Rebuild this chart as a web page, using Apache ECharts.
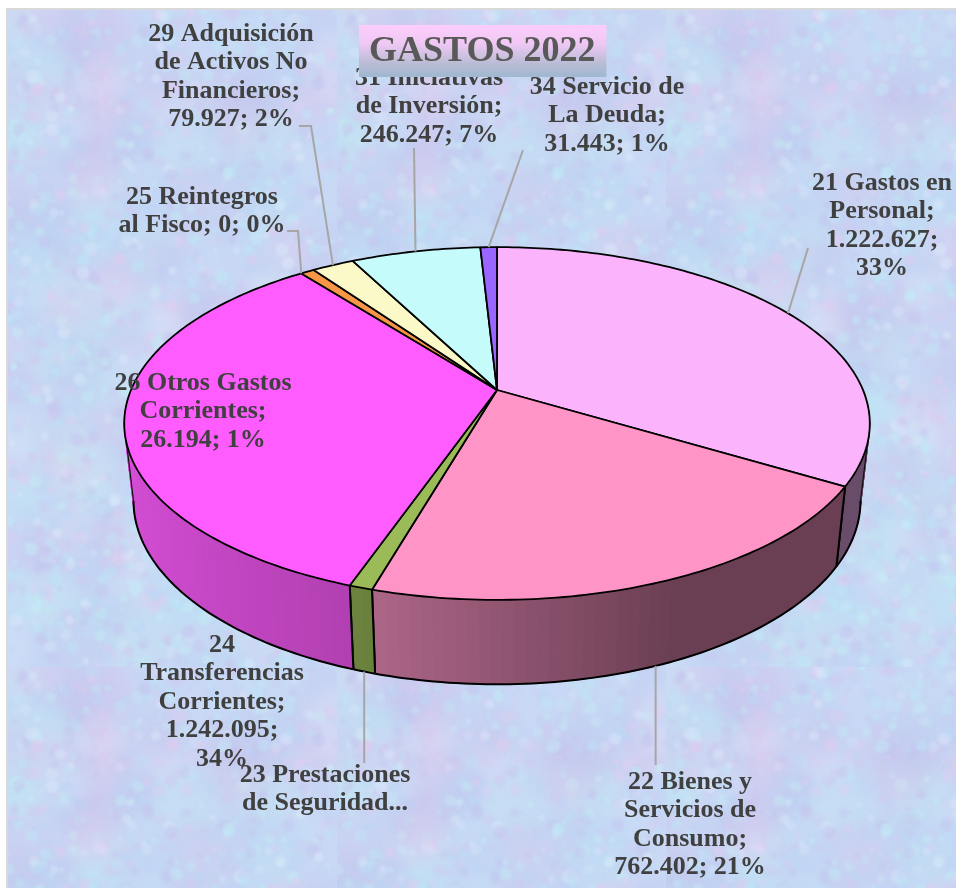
<!DOCTYPE html>
<html>
<head>
<meta charset="utf-8">
<style>
  html, body { margin: 0; padding: 0; background: #fff; }
  #pie3d { width: 956px; height: 888px; }
</style>
<script src="https://cdn.jsdelivr.net/npm/echarts@6/dist/echarts.min.js"></script>
</head>
<body>
<div id="pie3d"></div>
<script>
// datos (el 23 va truncado en la etiqueta, valor estimado)
var sliceNames = ['21 Gastos en Personal', '22 Bienes y Servicios de Consumo', '23 Prestaciones de Seguridad Social',
  '24 Transferencias Corrientes', '25 Reintegros al Fisco', '26 Otros Gastos Corrientes',
  '29 Adquisición de Activos No Financieros', '31 Iniciativas de Inversión', '34 Servicio de La Deuda'];
var sliceValues = [1222627, 762402, 31000, 1242095, 0, 26194, 79927, 246247, 31443];
var sliceColors = ['#fbb4fb', '#fe95c6', '#9bbb59', '#ff5cff', '#4f81bd', '#f79646', '#fbf9c8', '#c5fbfb', '#9966ff'];
var sliceLabels = [
  '21 Gastos en\nPersonal;\n1.222.627;\n33%',
  '22 Bienes y\nServicios de\nConsumo;\n762.402; 21%',
  '23 Prestaciones\nde Seguridad...',
  '24\nTransferencias\nCorrientes;\n1.242.095;\n34%',
  '25 Reintegros\nal Fisco; 0; 0%',
  '26 Otros Gastos\nCorrientes;\n26.194; 1%',
  '29 Adquisición\nde Activos No\nFinancieros;\n79.927; 2%',
  '31 Iniciativas\nde Inversión;\n246.247; 7%',
  '34 Servicio de\nLa Deuda;\n31.443; 1%'
];

// donde va cada etiqueta: x centro, y primera linea, y fin de la guia (null = sin guia)
var labelSpots = [
  { x: 882, y: 169, lead: [808, 248] },
  { x: 690, y: 768, lead: [653, 765] },
  { x: 325, y: 761, lead: [364, 763] },
  { x: 222, y: 631, lead: null },
  { x: 202, y: 183, lead: [[287, 231], [298, 231]] },
  { x: 203, y: 369, lead: null },
  { x: 231, y: 20, lead: [[299, 126], [311, 126]] },
  { x: 429, y: 64, lead: [414, 148] },
  { x: 607, y: 73, lead: [523, 150] }
];

var total = sliceValues.reduce(function (a, b) { return a + b; }, 0);
var RAD = Math.PI / 180;

// perspectiva del pie: circulo superior e inferior
var HUB_X = 497, HUB_Y = 390, RX = 366, RY = 170, PERSP = 0.19;
var BOTTOM_Y = 466, BOTTOM_SX = 0.975, BOTTOM_SY = 1.04;

function topPoint(deg) {
  var u = Math.sin(deg * RAD), v = Math.cos(deg * RAD), w = 1 + PERSP * v;
  return [HUB_X + RX * u / w, HUB_Y - RY * v / w];
}
function bottomPoint(deg) {
  var u = Math.sin(deg * RAD), v = Math.cos(deg * RAD), w = 1 + PERSP * v;
  return [HUB_X + BOTTOM_SX * RX * u / w, BOTTOM_Y - BOTTOM_SY * RY * v / w];
}
function arc(fn, a, b) {
  var pts = [], n = Math.max(2, Math.ceil(Math.abs(b - a)));
  for (var i = 0; i <= n; i++) pts.push(fn(a + (b - a) * i / n));
  return pts;
}

// angulos acumulados de cada slice
var sliceAngles = [];
sliceValues.reduce(function (acc, v) {
  var next = acc + v / total * 360;
  sliceAngles.push([acc, next]);
  return next;
}, 0);

// sombra de la pared segun posicion horizontal
function wallFactor(deg) {
  var u = Math.sin(deg * RAD);
  if (u > 0.4) return 0.42;
  if (u > -0.3) return 0.69 - (u + 0.3) / 0.7 * 0.27;
  return 0.84 - (u + 1) / 0.7 * 0.15;
}
function shade(hex, f) {
  var c = echarts.color.parse(hex);
  return 'rgb(' + Math.round(c[0] * f) + ',' + Math.round(c[1] * f) + ',' + Math.round(c[2] * f) + ')';
}

var silhouette = Math.acos(-PERSP) / RAD;

function renderWall(params, api) {
  var i = api.value(0);
  var a = Math.max(sliceAngles[i][0], 90), b = Math.min(sliceAngles[i][1], 270);
  if (api.value(1) === 0 || b <= a) return { type: 'group', children: [] };
  var kids = [];
  var step = 1.5;
  for (var d = a; d < b; d += step) {
    var e = Math.min(d + step, b);
    var col = shade(sliceColors[i], wallFactor((d + e) / 2));
    kids.push({
      type: 'polygon',
      shape: { points: [topPoint(d), topPoint(e), bottomPoint(e), bottomPoint(d)] },
      style: { fill: col, stroke: col, lineWidth: 1 }
    });
  }
  var ink = { fill: null, stroke: '#000', lineWidth: 2 };
  // borde inferior
  var lo = Math.max(a, silhouette), hi = Math.min(b, 360 - silhouette);
  if (hi > lo) kids.push({ type: 'polyline', shape: { points: arc(bottomPoint, lo, hi) }, style: ink });
  // aristas verticales
  [a, b].forEach(function (d) {
    if (d > silhouette && d < 360 - silhouette) {
      kids.push({ type: 'line', shape: { x1: topPoint(d)[0], y1: topPoint(d)[1], x2: bottomPoint(d)[0], y2: bottomPoint(d)[1] }, style: ink });
    }
  });
  [silhouette, 360 - silhouette].forEach(function (d) {
    if (d >= a && d <= b) {
      kids.push({ type: 'line', shape: { x1: topPoint(d)[0], y1: topPoint(d)[1], x2: bottomPoint(d)[0], y2: bottomPoint(d)[1] }, style: { stroke: '#111', lineWidth: 1.2 } });
    }
  });
  return { type: 'group', children: kids };
}

function renderTop(params, api) {
  var i = api.value(0);
  if (api.value(1) === 0) return { type: 'group', children: [] };
  var pts = [[HUB_X, HUB_Y]].concat(arc(topPoint, sliceAngles[i][0], sliceAngles[i][1]));
  return {
    type: 'polygon',
    shape: { points: pts },
    style: { fill: sliceColors[i], stroke: '#000', lineWidth: 1.8, lineJoin: 'round' }
  };
}

function renderLabel(params, api) {
  var i = api.value(0), spot = labelSpots[i], kids = [];
  if (spot.lead) {
    var mid = (sliceAngles[i][0] + sliceAngles[i][1]) / 2;
    var front = mid > 90 && mid < 270;
    var anchor = front ? bottomPoint(mid) : topPoint(mid);
    var start = Array.isArray(spot.lead[0]) ? spot.lead : [spot.lead];
    // guias verticales de abajo: mismo x que el punto del pie
    if (front) start = [[anchor[0], spot.lead[1]]];
    kids.push({
      type: 'polyline',
      shape: { points: start.concat([anchor]) },
      style: { fill: null, stroke: '#a6a6a6', lineWidth: 2 }
    });
  }
  kids.push({
    type: 'text',
    style: {
      text: sliceLabels[i], x: spot.x, y: spot.y, align: 'center', verticalAlign: 'top',
      fill: '#404040', fontFamily: '"Liberation Serif", serif', fontWeight: 'bold', fontSize: 26, lineHeight: 28.4
    }
  });
  return { type: 'group', children: kids };
}

// fondo: textura pastel en mosaico, pseudoaleatorio fijo
function makeTexture(w, h) {
  var tw = 329, th = 657;
  var tile = document.createElement('canvas');
  tile.width = tw; tile.height = th;
  var c = tile.getContext('2d');
  c.fillStyle = '#c8d8f5';
  c.fillRect(0, 0, tw, th);
  var seed = 20220;
  function rnd() { seed = (seed * 1664525 + 1013904223) % 4294967296; return seed / 4294967296; }
  var tints = ['#bde6f6', '#cfcaf0', '#e0ccf0', '#bcd6f6', '#dbe9fa', '#c4c4ee', '#c4ecf4'];
  function blobs(count, minR, maxR, minA, maxA, blur) {
    c.filter = 'blur(' + blur + 'px)';
    for (var n = 0; n < count; n++) {
      c.globalAlpha = minA + rnd() * (maxA - minA);
      c.fillStyle = tints[Math.floor(rnd() * tints.length)];
      c.beginPath();
      c.arc(rnd() * tw, rnd() * th, minR + rnd() * (maxR - minR), 0, 7);
      c.fill();
    }
  }
  blobs(260, 14, 34, 0.2, 0.4, 8);
  blobs(1500, 2, 7, 0.25, 0.55, 1.5);
  // manchas rosadas del motivo
  c.filter = 'blur(12px)';
  c.fillStyle = '#e8c6ec';
  [[95, 85, 20, 44], [85, 170, 22, 26], [60, 300, 22, 20], [60, 460, 20, 16], [260, 400, 20, 20], [180, 520, 20, 18], [230, 120, 18, 16]].forEach(function (b) {
    c.globalAlpha = 0.4;
    c.beginPath();
    c.ellipse(b[0], b[1], b[2], b[3], 0, 0, 7);
    c.fill();
  });
  var out = document.createElement('canvas');
  out.width = w; out.height = h;
  var o = out.getContext('2d');
  for (var x = 0; x < w; x += tw) for (var y = 0; y < h; y += th) o.drawImage(tile, x, y);
  return out;
}

var seriesData = sliceValues.map(function (v, i) { return { name: sliceNames[i], value: [i, v] }; });
var chart = echarts.init(document.getElementById('pie3d'));
chart.setOption({
  animation: false,
  backgroundColor: '#fff',
  title: {
    text: 'GASTOS 2022',
    left: 359,
    top: 25,
    padding: [9, 11, 7, 10],
    backgroundColor: new echarts.graphic.LinearGradient(0, 0, 0, 1, [
      { offset: 0, color: '#fccdfa' },
      { offset: 0.35, color: '#f0c8f4' },
      { offset: 0.75, color: '#b8bcd4' },
      { offset: 1, color: '#9fb8d0' }
    ]),
    textStyle: { color: '#595959', fontFamily: '"Liberation Serif", serif', fontWeight: 'bold', fontSize: 36, lineHeight: 36 },
    z: 10
  },
  graphic: [
    { type: 'rect', z: -2, silent: true, shape: { x: 6, y: 8, width: 950, height: 880 }, style: { fill: '#d9d9d9' } },
    { type: 'image', z: -1, silent: true, style: { image: makeTexture(948, 878), x: 8, y: 10, width: 948, height: 878 } }
  ],
  series: [
    { type: 'custom', name: 'paredes', coordinateSystem: 'none', renderItem: renderWall, data: seriesData, silent: true, z: 2 },
    { type: 'custom', name: 'gastos', coordinateSystem: 'none', renderItem: renderTop, data: seriesData, silent: true, z: 3 },
    { type: 'custom', name: 'etiquetas', coordinateSystem: 'none', renderItem: renderLabel, data: seriesData, silent: true, z: 4 }
  ]
});
</script>
</body>
</html>
